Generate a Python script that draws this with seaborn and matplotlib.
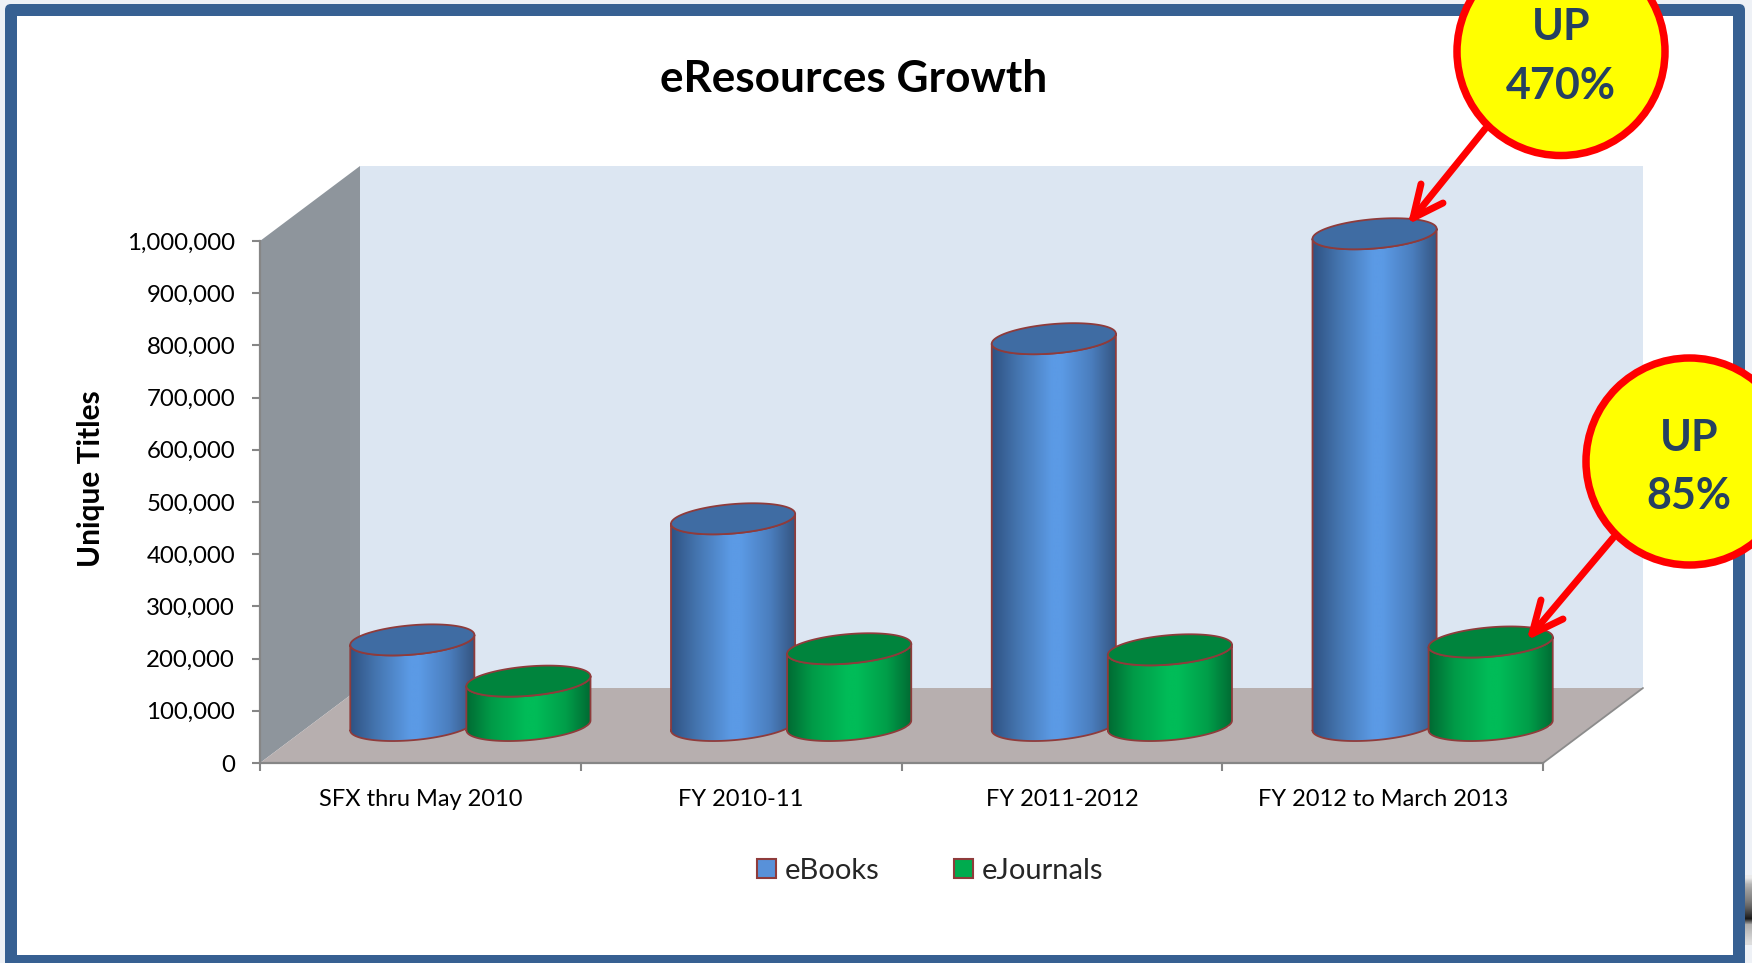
import numpy as np
import pandas as pd
import seaborn as sns
import matplotlib
matplotlib.use("Agg")
import matplotlib.pyplot as plt
from matplotlib.colors import LinearSegmentedColormap, to_hex
from matplotlib.patches import Circle, FancyBboxPatch, Patch, Polygon
from matplotlib.path import Path

# Chart values
periods = ["SFX thru May 2010", "FY 2010-11", "FY 2011-2012", "FY 2012 to March 2013"]
ebooks = [164000, 396000, 741000, 942000]
ejournals = [85000, 147000, 145000, 160000]
series_names = ["eBooks", "eJournals"]
y_ticks = list(range(0, 1000001, 100000))
callout_lines = [["UP", "470%"], ["UP", "85%"]]

W, H = 1752, 963
DPI = 100

sns.set_theme(style="white")
plt.rcParams["font.family"] = ["Lato", "DejaVu Sans"]

fig = plt.figure(figsize=(W / DPI, H / DPI), dpi=DPI, facecolor="#EEF1F6")


def px_axes(zorder):
    """Full-figure overlay addressed in image pixels."""
    a = fig.add_axes([0, 0, 1, 1], zorder=zorder)
    a.set_xlim(0, W)
    a.set_ylim(H, 0)
    a.axis("off")
    a.patch.set_alpha(0)
    return a


# Slide frame behind the chart
back = px_axes(0)
back.add_patch(FancyBboxPatch((9, 8), 1732, 965, boxstyle="round,pad=4,rounding_size=6",
                              fc="#376092", ec="none"))
back.add_patch(plt.Rectangle((17, 16), 1716, 939, fc="white", ec="none"))
edge = np.array([0.92, 0.72, 0.62, 0.55, 0.48, 0.38, 0.25, 0.1, 0.68, 0.74, 0.8, 0.86])[:, None]
back.imshow(edge, cmap="gray", vmin=0, vmax=1, extent=(1745, 1752, 945, 875),
            aspect="auto", interpolation="bilinear", zorder=2)
back.set_xlim(0, W)
back.set_ylim(H, 0)

# Main plot area: the front plane of the 3-D box
AX_L, AX_R, AX_T, AX_B = 260, 1543, 241, 763
ax = fig.add_axes([AX_L / W, 1 - AX_B / H, (AX_R - AX_L) / W, (AX_B - AX_T) / H], zorder=1)
ax.patch.set_alpha(0)

df = pd.DataFrame({
    "period": periods * 2,
    "titles": ebooks + ejournals,
    "format": np.repeat(series_names, len(periods)),
})
sns.barplot(data=df, x="period", y="titles", hue="format", order=periods,
            hue_order=series_names, palette=["#5891D9", "#00AB4E"], saturation=1,
            width=0.724, gap=0, legend=False, ax=ax)
bars = sorted((p for c in ax.containers for p in c), key=lambda p: p.get_x())

ax.set_xlim(-0.5, 3.5)
ax.set_ylim(0, 1000000)

# Box depth and cylinder shape, in data units
px_x = 4 / (AX_R - AX_L)
px_y = 1000000 / (AX_B - AX_T)
DEPTH_X, DEPTH_Y = 100 * px_x, 75 * px_y
TILT, ELL_H = 5 * px_y, 14.7 * px_y
RADIUS_SCALE = 124 / 116

x0, x1, y1 = -0.5, 3.5, 1000000
box = dict(clip_on=False, ec="none", zorder=0.5)
ax.add_patch(Polygon([(x0 + DEPTH_X, DEPTH_Y), (x1 + DEPTH_X, DEPTH_Y),
                      (x1 + DEPTH_X, y1 + DEPTH_Y), (x0 + DEPTH_X, y1 + DEPTH_Y)],
                     fc="#DCE6F2", **box))
ax.add_patch(Polygon([(x0, 0), (x0 + DEPTH_X, DEPTH_Y), (x0 + DEPTH_X, y1 + DEPTH_Y), (x0, y1)],
                     fc="#8E959C", **box))
ax.add_patch(Polygon([(x0, 0), (x1, 0), (x1 + DEPTH_X, DEPTH_Y), (x0 + DEPTH_X, DEPTH_Y)],
                     fc="#B7AFAF", **box))
ax.plot([x1, x1 + DEPTH_X], [0, DEPTH_Y], color="#8C8C8C", lw=1.3, clip_on=False, zorder=0.6)

OUTLINE = "#8F3B3B"
ramps = {
    "#5891d9": (["#2F5283", "#4474AE", "#5B9AE5", "#5B9AE5", "#4A7DBD", "#34547F"], "#3F6CA3"),
    "#00ab4e": (["#006A33", "#009A47", "#00BC58", "#00BC58", "#009E49", "#006A33"], "#00843D"),
}
ramp_stops = [0, 0.2, 0.48, 0.56, 0.8, 1]

t_low = np.linspace(np.pi, 2 * np.pi, 60)
t_all = np.linspace(0, 2 * np.pi, 120)

for order, bar in enumerate(bars):
    stops, cap = ramps[to_hex(bar.get_facecolor())]
    # Stand each bar on the middle of the floor
    bar.set_xy((bar.get_x() + DEPTH_X / 2, DEPTH_Y / 2))
    bar.set_clip_on(False)
    z = 2 + order * 0.1
    bar.set_zorder(z)

    cx = bar.get_x() + bar.get_width() / 2
    r = bar.get_width() / 2 * RADIUS_SCALE
    base = bar.get_y()
    top = base + bar.get_height()

    low_x = cx + r * np.cos(t_low)
    low_y = np.sin(t_low) * ELL_H + np.cos(t_low) * TILT
    body = np.vstack([np.c_[low_x, base + low_y], np.c_[low_x[::-1], top + low_y[::-1]]])
    body_closed = np.vstack([body, body[:1]])

    cmap = LinearSegmentedColormap.from_list("cyl", list(zip(ramp_stops, stops)))
    im = ax.imshow(np.linspace(0, 1, 256)[None, :], cmap=cmap, aspect="auto",
                   extent=(cx - r, cx + r, base - 2 * ELL_H, top + 2 * ELL_H),
                   zorder=z + 0.01, interpolation="bilinear")
    im.set_clip_box(fig.bbox)
    im.set_clip_path(Path(body_closed), ax.transData)

    ax.plot(body_closed[:, 0], body_closed[:, 1], color=OUTLINE, lw=1.3, clip_on=False, zorder=z + 0.02)
    cap_x = cx + r * np.cos(t_all)
    cap_y = top + np.sin(t_all) * ELL_H + np.cos(t_all) * TILT
    ax.add_patch(Polygon(np.c_[cap_x, cap_y], closed=True, fc=cap, ec=OUTLINE, lw=1.3,
                         clip_on=False, zorder=z + 0.03))

ax.set_xlim(-0.5, 3.5)
ax.set_ylim(0, 1000000)

# Axes dressing
for name in ("top", "right"):
    ax.spines[name].set_visible(False)
for name in ("left", "bottom"):
    ax.spines[name].set_color("#868686")
    ax.spines[name].set_linewidth(1.6)
    ax.spines[name].set_zorder(1)

ax.set_yticks(y_ticks)
ax.set_yticklabels([f"{v:,}" for v in y_ticks])
ax.set_xticks(range(len(periods)))
ax.set_xticklabels(periods)
ax.set_xticks(np.arange(-0.5, 4, 1), minor=True)
ax.tick_params(axis="y", which="major", length=6, width=1.5, color="#868686", pad=12,
               labelsize=17.3, labelcolor="black", left=True)
ax.tick_params(axis="x", which="major", length=0, pad=19, labelsize=17, labelcolor="black")
ax.tick_params(axis="x", which="minor", length=6, width=1.5, color="#868686", bottom=True)
ax.set_xlabel("")
ax.set_ylabel("")

fig.text(91 / W, 1 - 479 / H, "Unique Titles", rotation=90, ha="center", va="center",
         fontsize=21.5, fontweight="bold", color="black")
fig.text(854 / W, 1 - 79.5 / H, "eResources Growth", ha="center", va="center",
         fontsize=31.8, fontweight="bold", color="black")

handles = [Patch(fc=c, ec=OUTLINE, lw=1.5, label=n)
           for c, n in zip(["#5891D9", "#00AB4E"], series_names)]
ax.legend(handles=handles, ncol=2, loc="center", bbox_to_anchor=(930 / W, 1 - 871 / H),
          bbox_transform=fig.transFigure, frameon=False, fontsize=21,
          handlelength=0.65, handleheight=0.65, handletextpad=0.3, columnspacing=2.56)

# Callouts on top of everything
top_ax = px_axes(3)
TEXT_BLUE = "#254061"
ARROW = dict(color="#FF0000", lw=5, solid_capstyle="round", solid_joinstyle="round")
callouts = [
    dict(centre=(1561, 51.5), r=104, start=(1485, 129), tip=(1413, 218),
         head=[(1421, 184), (1443, 203)], rows=[27, 86], x=1561),
    dict(centre=(1689.5, 461.5), r=103.5, start=(1613, 538), tip=(1532, 634),
         head=[(1541, 600), (1563, 619)], rows=[438, 496], x=1689),
]
for spec, lines in zip(callouts, callout_lines):
    sx, sy = spec["start"]
    tx, ty = spec["tip"]
    top_ax.plot([sx, tx], [sy, ty], **ARROW)
    for hx, hy in spec["head"]:
        top_ax.plot([hx, tx], [hy, ty], **ARROW)
    top_ax.add_patch(Circle(spec["centre"], spec["r"], fc="#FFFF00", ec="#FF0000", lw=5.4))
    for row, line in zip(spec["rows"], lines):
        top_ax.text(spec["x"], row, line, ha="center", va="center", fontsize=31,
                    fontweight="bold", color=TEXT_BLUE)

fig.savefig("out.png", dpi=DPI, facecolor=fig.get_facecolor())
